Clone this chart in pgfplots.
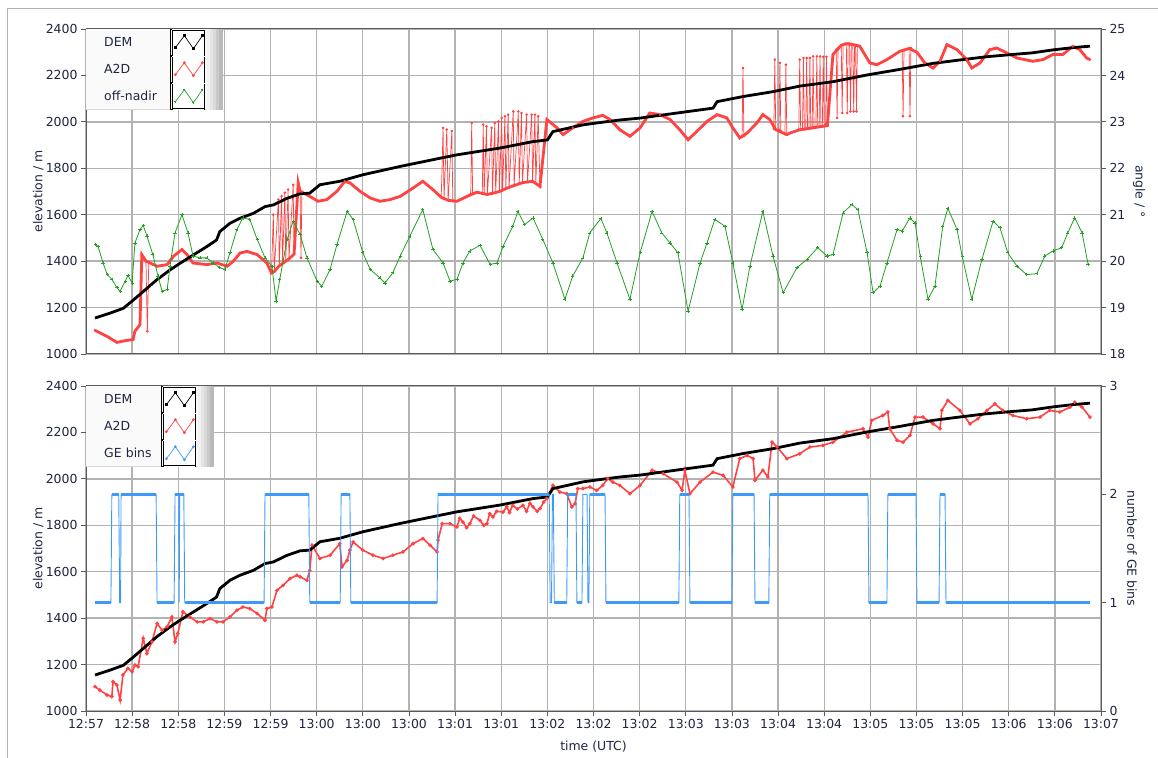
\documentclass[border=0pt]{standalone}
\usepackage{fontspec}
\setmainfont{DejaVu Sans}
\usepackage{pgfplots}
\pgfplotsset{compat=1.18}

\definecolor{a2dred}{HTML}{FF4242}
\definecolor{nadgreen}{HTML}{22A022}
\definecolor{gebblue}{HTML}{3D9BF7}
\definecolor{gridgray}{HTML}{B2B2B2}
\definecolor{framegray}{HTML}{5A5A5A}
\definecolor{labnavy}{HTML}{1E2540}
\definecolor{legbg}{HTML}{FAFAFA}

\newcommand{\lblfont}{\fontsize{12.5}{14}\selectfont}
% legend sample: framed zigzag, like the LabVIEW plot legend
\newcommand{\legimg}[3]{%
  \path (0bp,-13bp) rectangle (34bp,13bp);
  \fill[white] (2bp,-13bp) rectangle (34bp,13bp);
  \draw[black,line width=1bp] (2bp,-13bp) -- (2bp,13bp) (34bp,-13bp) -- (34bp,13bp);
  \draw[#1,line width=0.7bp,mark=#2,mark size=1bp,mark options={solid,fill=#1}]
    plot coordinates {(5bp,-5bp) (14bp,7bp) (23bp,-6bp) (32bp,7bp)};
  #3}
\newcommand{\legtop}{\draw[black,line width=1bp] (2bp,12bp) -- (34bp,12bp);}
\newcommand{\legbot}{\draw[black,line width=1bp] (2bp,-12bp) -- (34bp,-12bp);}
% bevel at the right and bottom edge of the legend box
\newcommand{\legshade}{%
  \def\bb{path picture bounding box}%
  \fill[gray!10] ([xshift=-16bp]\bb.north east) rectangle ([xshift=-13bp]\bb.south east);
  \fill[gray!20] ([xshift=-13bp]\bb.north east) rectangle ([xshift=-10bp]\bb.south east);
  \fill[gray!30] ([xshift=-10bp]\bb.north east) rectangle ([xshift=-7bp]\bb.south east);
  \fill[gray!42] ([xshift=-7bp]\bb.north east) rectangle ([xshift=-4bp]\bb.south east);
  \fill[gray!55] ([xshift=-4bp]\bb.north east) rectangle (\bb.south east);
  \fill[gray!30] (\bb.south west) rectangle ([yshift=1.5bp,xshift=-16bp]\bb.south east);}

\pgfplotsset{
  panel/.style={
    scale only axis, width=1015bp, height=325bp, anchor=south west,
    xmin=0, xmax=22, xtick={0,...,22},
    axis line style={draw=framegray, line width=1bp},
    tick align=outside, major tick length=5bp,
    tick style={draw=framegray, line width=0.8bp},
    tick label style={font=\lblfont, text=labnavy},
    label style={font=\lblfont, text=labnavy},
    /pgf/number format/assume math mode=true,
    /pgf/number format/1000 sep={},
  },
  elev/.style={panel,
    ymin=1000, ymax=2400, ytick={1000,1200,...,2400},
    grid=major, major grid style={draw=gridgray, line width=1.3bp},
    xtick pos=bottom, ytick pos=left,
    ylabel={elevation / m},
    ylabel style={at={(axis description cs:-0.047,0.5)}, anchor=center},
    legend cell align=left, legend plot pos=right,
    legend style={at={(axis description cs:0,1)}, anchor=north west,
      draw=none, fill=legbg, inner xsep=18bp, inner ysep=0pt,
      row sep=0pt, column sep=0pt,
      nodes={inner xsep=0pt, inner ysep=0pt, minimum height=26bp,
        font=\lblfont, text=labnavy},
      path picture={\legshade}},
  },
  twin/.style={panel,
    axis x line=none, axis y line*=right,
    ylabel style={rotate=180, anchor=center},
  },
}

\begin{document}
\begin{tikzpicture}
\path[use as bounding box] (0bp,0bp) rectangle (1158bp,758bp);

% ---------------- top panel ----------------
\begin{axis}[elev, at={(86bp,404bp)},
  xticklabels={}, xtick style={/pgfplots/major tick length=0pt},
  legend style={nodes={text width=66bp}}]
\addlegendimage{legend image code/.code={\legimg{black}{square*}{\legtop}}}
\addlegendentry{DEM}
\addlegendimage{legend image code/.code={\legimg{a2dred}{*}{}}}
\addlegendentry{A2D}
\addlegendimage{legend image code/.code={\legimg{nadgreen}{+}{\legbot}}}
\addlegendentry{off-nadir}

% A2D with the outlier spikes
\addplot[forget plot, a2dred, line width=0.7bp, mark=*, mark size=0.9bp] coordinates {
(0.195,1102)(0.455,1076)(0.67,1050)(0.89,1059)(1.02,1062)(1.06,1098)(1.17,1126)
(1.21,1428)(1.30,1400)(1.33,1098)(1.36,1395)(1.54,1378)(1.76,1385)(1.89,1420)
(2.08,1450)(2.19,1428)(2.32,1392)(2.62,1385)(2.84,1392)(3.06,1378)(3.19,1399)
(3.34,1435)(3.49,1442)(3.71,1428)(3.92,1392)(4.02,1349)(4.06,1600)(4.08,1355)
(4.17,1665)(4.19,1380)(4.24,1680)(4.26,1390)(4.31,1695)(4.33,1400)(4.38,1708)
(4.40,1410)(4.49,1729)(4.51,1430)(4.60,1737)(4.64,1701)(4.66,1414)(4.68,1700)
(4.85,1679)(5.03,1658)(5.22,1665)(5.44,1701)(5.61,1744)(5.72,1737)(5.94,1701)
(6.16,1672)(6.37,1658)(6.59,1665)(6.81,1679)(7.09,1715)(7.30,1744)(7.52,1708)
(7.70,1675)(7.74,1974)(7.76,1668)(7.82,1967)(7.85,1662)(7.93,1960)(7.95,1658)
(8.04,1658)(8.26,1679)(8.34,1690)(8.36,1995)(8.38,1692)(8.47,1697)(8.59,1690)
(8.61,1988)(8.63,1689)(8.68,1981)(8.70,1687)(8.79,1974)(8.81,1690)(8.86,1995)
(8.88,1694)(8.94,2002)(8.96,1700)(9.01,2017)(9.03,1705)(9.08,2024)(9.10,1712)
(9.15,2031)(9.17,1718)(9.26,2045)(9.28,1730)(9.37,2045)(9.39,1735)(9.44,2038)
(9.46,1738)(9.55,2031)(9.57,1741)(9.66,2031)(9.68,1744)(9.73,2031)(9.75,1735)
(9.80,2024)(9.84,1722)(9.99,2010)(10.21,1974)(10.34,1945)(10.55,1974)(10.77,2002)
(10.99,2017)(11.20,2028)(11.36,2010)(11.57,1966)(11.79,1938)(12.01,1974)(12.22,2038)
(12.44,2031)(12.66,2010)(12.87,1966)(13.05,1923)(13.24,1959)(13.46,2002)(13.68,2031)
(13.89,2017)(14.02,1974)(14.17,1931)(14.22,1935)(14.24,2232)(14.26,1938)(14.33,1952)
(14.54,1995)(14.67,2031)(14.82,2010)(14.91,1970)(14.93,2268)(14.95,1966)(15.02,1966)
(15.04,2254)(15.06,1960)(15.15,1947)(15.17,2246)(15.19,1945)(15.26,1952)(15.45,1966)
(15.47,2268)(15.49,1966)(15.53,1968)(15.55,2275)(15.57,1968)(15.60,1969)(15.62,2275)
(15.64,1970)(15.67,1971)(15.69,2275)(15.71,1972)(15.74,1974)(15.76,2282)(15.78,1975)
(15.82,1976)(15.84,2282)(15.86,1977)(15.89,1978)(15.91,2282)(15.93,1979)(15.96,1980)
(15.98,2280)(16.00,1982)(16.03,1983)(16.05,2280)(16.07,1984)(16.19,2290)(16.26,2311)
(16.28,2017)(16.30,2318)(16.37,2330)(16.39,2038)(16.41,2333)(16.48,2337)(16.50,2038)
(16.52,2337)(16.55,2337)(16.57,2045)(16.59,2335)(16.62,2333)(16.64,2045)(16.66,2331)
(16.68,2330)(16.70,2045)(16.72,2328)(16.77,2326)(16.99,2254)(17.14,2246)(17.36,2268)
(17.64,2304)(17.69,2306)(17.71,2024)(17.73,2308)(17.84,2316)(17.86,2024)(17.88,2318)
(18.01,2300)(18.18,2254)(18.36,2232)(18.51,2261)(18.66,2333)(18.88,2311)(19.09,2268)
(19.20,2232)(19.38,2254)(19.59,2311)(19.74,2318)(19.96,2297)(20.18,2275)(20.52,2261)
(20.74,2268)(20.96,2290)(21.17,2290)(21.39,2325)(21.54,2311)(21.69,2275)(21.76,2268)
};
% A2D main track (dense samples)
\addplot[forget plot, a2dred, line width=2.8bp] coordinates {
(0.195,1102)(0.455,1076)(0.67,1050)(0.89,1059)(1.02,1062)(1.06,1098)(1.17,1126)
(1.21,1428)(1.30,1400)(1.36,1395)(1.54,1378)(1.76,1385)(1.89,1420)(2.08,1450)
(2.19,1428)(2.32,1392)(2.62,1385)(2.84,1392)(3.06,1378)(3.19,1399)(3.34,1435)
(3.49,1442)(3.71,1428)(3.92,1392)(4.02,1349)(4.08,1355)(4.19,1380)(4.26,1390)
(4.33,1400)(4.40,1410)(4.51,1430)(4.60,1737)(4.64,1701)(4.85,1679)(5.03,1658)
(5.22,1665)(5.44,1701)(5.61,1744)(5.72,1737)(5.94,1701)(6.16,1672)(6.37,1658)
(6.59,1665)(6.81,1679)(7.09,1715)(7.30,1744)(7.52,1708)(7.70,1675)(7.85,1662)
(8.04,1658)(8.26,1679)(8.47,1697)(8.70,1687)(8.96,1700)(9.17,1718)(9.46,1738)
(9.68,1744)(9.84,1722)(9.99,2010)(10.21,1974)(10.34,1945)(10.55,1974)(10.77,2002)
(10.99,2017)(11.20,2028)(11.36,2010)(11.57,1966)(11.79,1938)(12.01,1974)(12.22,2038)
(12.44,2031)(12.66,2010)(12.87,1966)(13.05,1923)(13.24,1959)(13.46,2002)(13.68,2031)
(13.89,2017)(14.02,1974)(14.17,1931)(14.33,1952)(14.54,1995)(14.67,2031)(14.82,2010)
(14.95,1966)(15.19,1945)(15.26,1952)(15.47,1966)(15.74,1974)(16.07,1984)(16.19,2290)
(16.37,2330)(16.48,2337)(16.62,2333)(16.77,2326)(16.99,2254)(17.14,2246)(17.36,2268)
(17.64,2304)(17.84,2316)(18.01,2300)(18.18,2254)(18.36,2232)(18.51,2261)(18.66,2333)
(18.88,2311)(19.09,2268)(19.20,2232)(19.38,2254)(19.59,2311)(19.74,2318)(19.96,2297)
(20.18,2275)(20.52,2261)(20.74,2268)(20.96,2290)(21.17,2290)(21.39,2325)(21.54,2311)
(21.69,2275)(21.76,2268)
};
% DEM
\addplot[forget plot, black, line width=2.8bp] coordinates {
(0.195,1155)(0.52,1176)(0.81,1197)(1.03,1233)(1.24,1269)(1.53,1319)(1.82,1362)
(2.04,1391)(2.33,1427)(2.62,1463)(2.83,1491)(2.90,1527)(3.12,1563)(3.34,1585)
(3.63,1606)(3.88,1635)(4.06,1642)(4.35,1670)(4.64,1690)(4.85,1693)(5.07,1729)
(5.50,1744)(6.00,1772)(6.81,1808)(7.52,1837)(8.04,1858)(8.97,1887)(9.69,1915)
(10.0,1922)(10.12,1958)(10.77,1987)(11.14,1997)(11.57,2008)(12.0,2016)(13.03,2044)
(13.59,2059)(13.68,2087)(14.24,2109)(14.89,2130)(15.47,2154)(16.19,2173)(16.93,2202)
(17.64,2226)(18.36,2252)(19.0,2268)(19.5,2280)(20.0,2289)(20.5,2297)(20.96,2310)
(21.4,2320)(21.76,2326)
};
\end{axis}

\begin{axis}[twin, at={(86bp,404bp)}, ymin=18, ymax=25, ytick={18,...,25},
  ylabel={angle / °}, ylabel style={at={(axis description cs:1.0374,0.5)}}]
\addplot[nadgreen, line width=0.8bp, mark=+, mark size=1.6bp,
  mark options={line width=0.6bp}] coordinates {
(0.20,20.36)(0.26,20.32)(0.37,19.96)(0.46,19.71)(0.56,19.61)(0.67,19.43)(0.74,19.35)
(0.85,19.57)(0.91,19.69)(1.00,19.53)(1.06,20.39)(1.17,20.68)(1.24,20.77)(1.32,20.54)
(1.45,20.14)(1.56,19.68)(1.65,19.35)(1.76,19.39)(1.82,19.89)(1.93,20.61)(2.08,21.00)
(2.21,20.61)(2.32,20.11)(2.47,20.07)(2.62,20.07)(2.75,19.96)(2.90,19.86)(3.01,19.82)
(3.12,20.18)(3.27,20.68)(3.40,20.93)(3.55,20.90)(3.71,20.47)(3.88,20.07)(4.03,19.89)
(4.12,19.14)(4.20,19.61)(4.36,20.47)(4.49,20.86)(4.64,20.58)(4.79,20.07)(5.01,19.57)
(5.11,19.46)(5.29,19.82)(5.44,20.36)(5.66,21.07)(5.79,20.90)(6.00,20.18)(6.16,19.82)
(6.37,19.64)(6.48,19.53)(6.65,19.75)(6.81,20.11)(7.02,20.54)(7.30,21.11)(7.52,20.25)
(7.74,19.96)(7.89,19.57)(8.04,19.61)(8.17,19.96)(8.32,20.22)(8.54,20.34)(8.76,19.93)
(8.91,19.96)(9.04,20.32)(9.25,20.75)(9.36,21.07)(9.51,20.79)(9.69,20.93)(9.90,20.47)
(10.12,19.96)(10.38,19.18)(10.55,19.68)(10.77,20.07)(10.92,20.61)(11.16,20.92)(11.29,20.61)
(11.51,19.96)(11.79,19.18)(12.01,20.18)(12.27,21.07)(12.48,20.61)(12.66,20.39)(12.83,20.18)
(13.05,18.92)(13.31,19.96)(13.46,20.39)(13.63,20.90)(13.85,20.75)(14.02,19.96)(14.22,18.96)
(14.39,19.89)(14.67,21.07)(14.89,20.11)(15.11,19.32)(15.41,19.86)(15.63,20.04)(15.86,20.29)
(16.06,20.11)(16.19,20.14)(16.41,21.04)(16.60,21.22)(16.73,21.11)(16.93,20.18)(17.06,19.32)
(17.21,19.46)(17.36,19.96)(17.58,20.68)(17.69,20.65)(17.86,20.93)(17.97,20.82)(18.08,20.11)
(18.25,19.18)(18.40,19.46)(18.57,20.75)(18.68,21.14)(18.88,20.68)(18.99,20.11)(19.20,19.18)
(19.42,20.04)(19.66,20.86)(19.81,20.72)(19.98,20.18)(20.18,19.89)(20.39,19.71)(20.61,19.73)
(20.78,20.11)(20.96,20.22)(21.15,20.29)(21.28,20.61)(21.43,20.93)(21.59,20.61)(21.72,19.93)
};
\end{axis}

% ---------------- bottom panel ----------------
\begin{axis}[elev, at={(86bp,47bp)}, xlabel={time (UTC)},
  xlabel style={at={(axis description cs:0.5,-0.111)}, anchor=center},
  xticklabels={12:57,12:58,12:58,12:59,12:59,13:00,13:00,13:00,13:01,13:01,13:02,13:02,
    13:02,13:03,13:03,13:04,13:04,13:05,13:05,13:05,13:06,13:06,13:07},
  legend style={nodes={text width=57bp}}]
\addlegendimage{legend image code/.code={\legimg{black}{square*}{\legtop}}}
\addlegendentry{DEM}
\addlegendimage{legend image code/.code={\legimg{a2dred}{*}{}}}
\addlegendentry{A2D}
\addlegendimage{legend image code/.code={\legimg{gebblue}{*}{\legbot}}}
\addlegendentry{GE bins}

\addplot[forget plot, a2dred, line width=1.6bp, mark=*, mark size=0.9bp] coordinates {
(0.195,1105)(0.30,1090)(0.455,1069)(0.56,1062)(0.585,1126)(0.67,1112)(0.74,1047)
(0.80,1155)(0.91,1184)(1.00,1169)(1.06,1198)(1.13,1191)(1.24,1313)(1.32,1248)
(1.43,1298)(1.54,1377)(1.65,1348)(1.76,1363)(1.86,1405)(1.93,1298)(1.99,1334)
(2.10,1427)(2.25,1405)(2.41,1384)(2.54,1384)(2.69,1398)(2.84,1384)(2.97,1384)
(3.12,1405)(3.27,1434)(3.40,1448)(3.55,1441)(3.71,1420)(3.88,1391)(3.92,1441)
(4.03,1448)(4.14,1520)(4.27,1541)(4.42,1570)(4.57,1585)(4.64,1578)(4.79,1563)
(4.85,1606)(4.90,1714)(5.07,1657)(5.29,1671)(5.50,1721)(5.55,1621)(5.66,1649)
(5.72,1693)(5.79,1728)(6.00,1693)(6.22,1671)(6.44,1657)(6.65,1671)(6.87,1685)
(7.09,1721)(7.30,1743)(7.46,1714)(7.61,1685)(7.63,1736)(7.72,1807)(7.89,1807)
(8.04,1793)(8.10,1830)(8.17,1814)(8.25,1790)(8.32,1807)(8.40,1840)(8.54,1821)
(8.62,1800)(8.69,1807)(8.75,1850)(8.82,1836)(8.90,1860)(9.04,1857)(9.12,1880)
(9.18,1855)(9.25,1886)(9.35,1870)(9.47,1886)(9.55,1860)(9.62,1895)(9.69,1879)
(9.78,1860)(9.84,1872)(9.92,1900)(9.99,1915)(10.12,1972)(10.27,1943)(10.42,1936)
(10.53,1879)(10.60,1893)(10.66,1958)(10.77,1958)(10.92,1965)(11.07,1950)(11.20,1972)
(11.31,2001)(11.42,1986)(11.57,1972)(11.79,1936)(12.01,1972)(12.27,2037)(12.51,2022)
(12.81,1986)(12.92,1951)(12.98,2037)(13.09,1936)(13.31,1986)(13.59,2029)(13.81,2015)
(14.02,1965)(14.17,2087)(14.33,2101)(14.46,2087)(14.50,1994)(14.67,2037)(14.78,2008)
(14.87,2158)(14.98,2137)(15.19,2087)(15.47,2108)(15.69,2137)(15.97,2144)(16.19,2158)
(16.49,2201)(16.84,2216)(16.95,2180)(17.03,2252)(17.27,2273)(17.38,2288)(17.42,2216)
(17.58,2166)(17.71,2158)(17.86,2187)(17.97,2266)(18.14,2266)(18.36,2237)(18.51,2216)
(18.55,2295)(18.68,2338)(18.94,2295)(19.16,2237)(19.33,2259)(19.53,2295)(19.70,2323)
(19.87,2295)(20.09,2273)(20.39,2259)(20.68,2266)(20.89,2295)(21.11,2288)(21.33,2309)
(21.43,2330)(21.59,2309)(21.76,2266)
};
\addplot[forget plot, black, line width=2.8bp] coordinates {
(0.195,1155)(0.52,1176)(0.81,1197)(1.03,1233)(1.24,1269)(1.53,1319)(1.82,1362)
(2.04,1391)(2.33,1427)(2.62,1463)(2.83,1491)(2.90,1527)(3.12,1563)(3.34,1585)
(3.63,1606)(3.88,1635)(4.06,1642)(4.35,1670)(4.64,1690)(4.85,1693)(5.07,1729)
(5.50,1744)(6.00,1772)(6.81,1808)(7.52,1837)(8.04,1858)(8.97,1887)(9.69,1915)
(10.0,1922)(10.12,1958)(10.77,1987)(11.14,1997)(11.57,2008)(12.0,2016)(13.03,2044)
(13.59,2059)(13.68,2087)(14.24,2109)(14.89,2130)(15.47,2154)(16.19,2173)(16.93,2202)
(17.64,2226)(18.36,2252)(19.0,2268)(19.5,2280)(20.0,2289)(20.5,2297)(20.96,2310)
(21.4,2320)(21.76,2326)
};
\end{axis}

\begin{axis}[twin, at={(86bp,47bp)}, ymin=0, ymax=3, ytick={0,1,2,3},
  ylabel={number of GE bins}, ylabel style={at={(axis description cs:1.0306,0.5)}},
  unbounded coords=jump]
\addplot[gebblue, line width=0.9bp] coordinates {
(0.195,1)(0.54,1)(0.56,2)(0.71,2)(0.73,1)(0.75,1)(0.76,2)(1.52,2)(1.54,1)(1.91,1)
(1.93,2)(2.01,2)(2.02,1)(2.03,2)(2.12,2)(2.14,1)(3.86,1)(3.88,2)(4.83,2)(4.85,1)
(5.51,1)(5.53,2)(5.72,2)(5.74,1)(7.61,1)(7.63,2)(10.04,2)(10.06,1)(10.09,1)(10.11,2)
(10.13,2)(10.15,1)(10.42,1)(10.44,2)(10.62,2)(10.64,1)(10.75,1)(10.77,2)(10.86,2)
(10.88,1)(10.90,1)(10.92,2)(11.25,2)(11.27,1)(12.85,1)(12.87,2)(13.07,2)(13.09,1)
(14.00,1)(14.02,2)(14.48,2)(14.50,1)(14.80,1)(14.82,2)(16.95,2)(16.97,1)(17.36,1)
(17.38,2)(17.99,2)(18.01,1)(18.49,1)(18.51,2)(18.62,2)(18.64,1)(21.76,1)
};
% runs of equal bins (dense samples look heavier)
\addplot[gebblue, line width=2.6bp] coordinates {
(0.195,1)(0.54,1)(0.54,nan)(0.56,2)(0.71,2)(0.71,nan)(0.76,2)(1.52,2)(1.52,nan)
(1.54,1)(1.91,1)(1.91,nan)(1.93,2)(2.12,2)(2.12,nan)(2.14,1)(3.86,1)(3.86,nan)
(3.88,2)(4.83,2)(4.83,nan)(4.85,1)(5.51,1)(5.51,nan)(5.53,2)(5.72,2)(5.72,nan)
(5.74,1)(7.61,1)(7.61,nan)(7.63,2)(10.04,2)(10.04,nan)(10.15,1)(10.42,1)(10.42,nan)
(10.44,2)(10.62,2)(10.62,nan)(10.64,1)(10.75,1)(10.75,nan)(10.92,2)(11.25,2)(11.25,nan)
(11.27,1)(12.85,1)(12.85,nan)(12.87,2)(13.07,2)(13.07,nan)(13.09,1)(14.00,1)(14.00,nan)
(14.02,2)(14.48,2)(14.48,nan)(14.50,1)(14.80,1)(14.80,nan)(14.82,2)(16.95,2)(16.95,nan)
(16.97,1)(17.36,1)(17.36,nan)(17.38,2)(17.99,2)(17.99,nan)(18.01,1)(18.49,1)(18.49,nan)
(18.51,2)(18.62,2)(18.62,nan)(18.64,1)(21.76,1)
};
\end{axis}

% outer frame of the front panel
\draw[gray!60, line width=1bp] (7bp,0bp) -- (7bp,749.5bp) -- (1158bp,749.5bp);
\end{tikzpicture}
\end{document}
